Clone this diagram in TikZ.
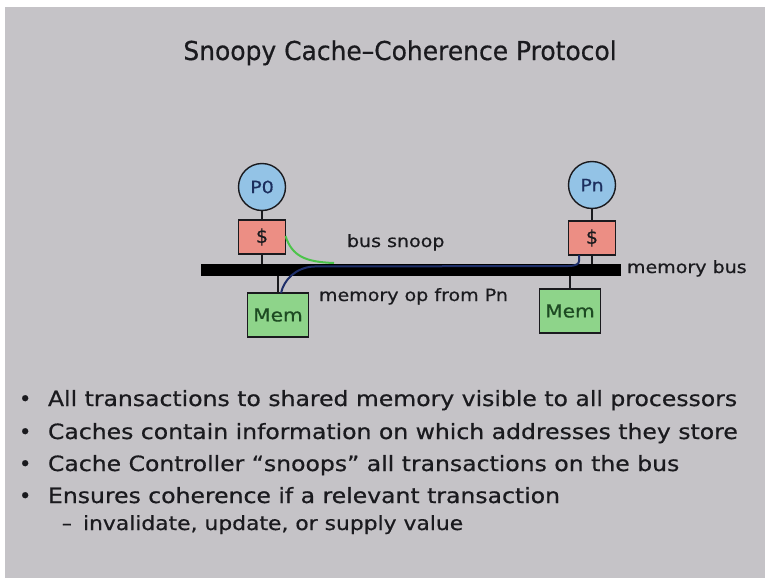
\documentclass[tikz,border=0pt]{standalone}
\usepackage{fontspec}
\setmainfont{DejaVu Sans}[FakeBold=0.6]
\usepackage{graphicx}
\definecolor{slidebg}{HTML}{C5C3C7}
\definecolor{ink}{HTML}{1A1A1E}
\definecolor{procfill}{HTML}{93C3E6}
\definecolor{procink}{HTML}{1C2F5E}
\definecolor{cachefill}{HTML}{EC8E84}
\definecolor{memfill}{HTML}{8ED48A}
\definecolor{memink}{HTML}{1D4A22}
\definecolor{snoopgreen}{HTML}{4CC34A}
\definecolor{opblue}{HTML}{1E2F6A}
\newcommand{\widetxt}[1]{\scalebox{1.12}[1]{#1}}
\begin{document}
\begin{tikzpicture}[x=1pt,y=-1pt,
  every node/.style={inner sep=0pt, outer sep=0pt},
  titletxt/.style={anchor=base, text=ink, font=\fontsize{26}{30}\selectfont},
  bullettxt/.style={anchor=base west, text=ink, font=\fontsize{21}{25}\selectfont},
  subtxt/.style={anchor=base west, text=ink, font=\fontsize{19.5}{23}\selectfont},
  labeltxt/.style={anchor=base west, text=ink, font=\fontsize{17}{20}\selectfont},
  proc/.style={circle, draw=ink, line width=1.4pt, fill=procfill, minimum size=47pt, text=procink, font=\fontsize{17}{19}\selectfont},
  cachebox/.style={rectangle, draw=ink, line width=1.4pt, fill=cachefill, minimum width=47pt, minimum height=34pt, text=ink, font=\fontsize{19}{20}\selectfont},
  membox/.style={rectangle, draw=ink, line width=1.4pt, fill=memfill, minimum width=61pt, minimum height=44pt, text=memink, font=\fontsize{18}{20}\selectfont},
  busbar/.style={rectangle, fill=black, minimum width=420pt, minimum height=12pt},
  link/.style={draw=ink, line width=1.2pt},
  snoop/.style={draw=snoopgreen, line width=2pt},
  memop/.style={draw=opblue, line width=2pt}
]
\useasboundingbox (0,0) rectangle (765,578);
\fill[white] (0,0) rectangle (765,578);
\fill[slidebg] (5,7) rectangle (765,578);

% title
\node[titletxt] (title) at (400,60) {\scalebox{0.96}[1]{Snoopy Cache–Coherence Protocol}};

% diagram
\node[busbar] (bus) at (411,270) {};
\node[proc] (p0) at (262,187) {\widetxt{P0}};
\node[cachebox] (c0) at (262,237) {\$};
\node[membox] (m0) at (278,315) {\widetxt{Mem}};
\node[proc] (pn) at (592,185) {\widetxt{Pn}};
\node[cachebox] (cn) at (592,238) {\$};
\node[membox] (mn) at (570,311) {\widetxt{Mem}};

\draw[link] (p0) -- (c0);
\draw[link] (c0.south) -- (c0.south |- bus.north);
\draw[link] (bus.south -| m0.north) -- (m0.north);
\draw[link] (pn) -- (cn);
\draw[link] (cn.south) -- (cn.south |- bus.north);
\draw[link] (bus.south -| mn.north) -- (mn.north);

% snoop and memory-op paths
\coordinate (snA) at ([yshift=1pt]c0.east);
\coordinate (snB) at (334,263);
\draw[snoop] (snA) .. controls (292,256) and (305,262) .. (snB);
\coordinate (opA) at ([xshift=-13pt]cn.south);
\coordinate (opB) at (313,266.5);
\coordinate (opC) at ([xshift=3pt]m0.north);
\draw[memop] (opA) -- ++(0,6) .. controls ++(0,3) and (576,266) .. (568,266) -- (opB)
  .. controls (295,268) and (284,280) .. (opC);

% labels
\node[labeltxt] (lsnoop) at (347,247) {\widetxt{bus snoop}};
\node[labeltxt] (lop) at (319,301) {\widetxt{memory op from Pn}};
\node[labeltxt] (lbus) at (627,273) {\widetxt{memory bus}};

% bullets
\node[bullettxt] (b1) at (19,406) {•};
\node[bullettxt] (t1) at (48,406) {\widetxt{All transactions to shared memory visible to all processors}};
\node[bullettxt] (b2) at (19,439) {•};
\node[bullettxt] (t2) at (48,439) {\widetxt{Caches contain information on which addresses they store}};
\node[bullettxt] (b3) at (19,471) {•};
\node[bullettxt] (t3) at (48,471) {\widetxt{Cache Controller “snoops” all transactions on the bus}};
\node[bullettxt] (b4) at (19,503) {•};
\node[bullettxt] (t4) at (48,503) {\widetxt{Ensures coherence if a relevant transaction}};
\node[subtxt] (d5) at (62,530) {–};
\node[subtxt] (t5) at (83,530) {\widetxt{invalidate, update, or supply value}};
\end{tikzpicture}
\end{document}
